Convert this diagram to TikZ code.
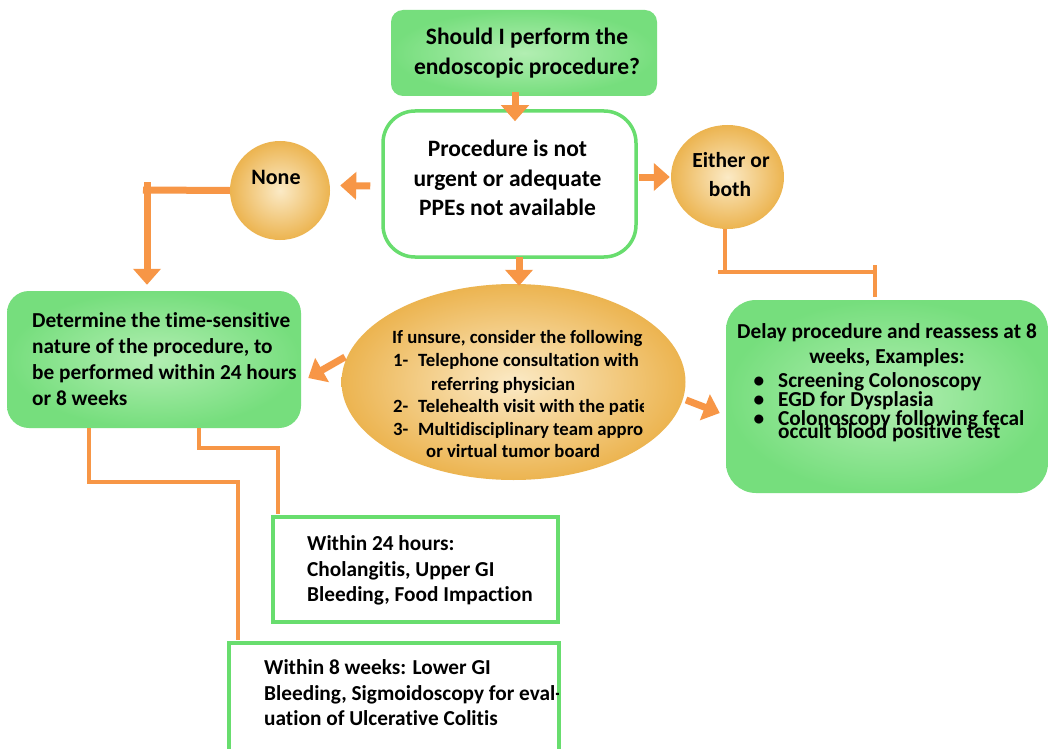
\documentclass[tikz,border=0pt]{standalone}
\usepackage{fontspec}
\setmainfont{Carlito}[Ligatures=NoCommon]
\usetikzlibrary{arrows.meta,shapes.geometric,calc}
\definecolor{gedge}{RGB}{118,222,125}
\definecolor{gin}{RGB}{178,238,178}
\definecolor{gborder}{RGB}{104,221,110}
\definecolor{oedge}{RGB}{236,180,80}
\definecolor{oin}{RGB}{251,234,198}
\definecolor{arr}{RGB}{247,150,70}
\begin{document}
\begin{tikzpicture}[x=1pt,y=-1pt,
  gbox/.style={rectangle, rounded corners=#1, inner color=gin, outer color=gedge, inner sep=0pt},
  gbox/.default=14pt,
  wbox/.style={rectangle, rounded corners=#1, fill=white, draw=gborder, line width=3.5pt, inner sep=0pt},
  wbox/.default=0pt,
  obub/.style={ellipse, inner color=oin, outer color=oedge, inner sep=0pt},
  bigarrow/.style={draw=arr, line width=7pt, -{Triangle[width=27pt,length=16pt]}},
  bigline/.style={draw=arr, line width=7pt},
  conn/.style={draw=arr, line width=4.5pt},
  tc/.style={anchor=base, inner sep=0pt, font=\bfseries\fontsize{#1}{#1}\selectfont},
  tl/.style={anchor=base west, inner sep=0pt, font=\bfseries\fontsize{#1}{#1}\selectfont},
]
\fill[white] (0,0) rectangle (1049,749);
\useasboundingbox (0,0) rectangle (1049,749);

% shapes
\node[gbox=12pt, minimum width=266pt, minimum height=86pt] (top) at (524,53) {};
\node[wbox=32pt, minimum width=253pt, minimum height=146pt] (box2) at (509.5,184) {};
\node[obub, minimum width=100pt, minimum height=99pt] (none) at (280,190.5) {};
\node[obub, minimum width=113pt, minimum height=104pt] (either) at (727.5,177) {};
\node[obub, minimum width=344pt, minimum height=196pt] (ell) at (513.5,382) {};
\node[gbox=22pt, minimum width=294pt, minimum height=137pt] (det) at (154,359.5) {};
\node[gbox=30pt, minimum width=322pt, minimum height=193pt] (dly) at (887,396.5) {};
\node[wbox, minimum width=285pt, minimum height=105pt] (w24) at (415.5,569.5) {};
\node[wbox, minimum width=330pt, minimum height=120pt] (w8) at (394,703) {};

% texts
\node[tc=23.5] (t1) at (527,45) {Should I perform the};
\node[tc=23.5] (t2) at (527,75) {endoscopic procedure?};
\node[tc=23.5] (b1) at (507.5,157) {Procedure is not};
\node[tc=23.5] (b2) at (507.5,186) {urgent or adequate};
\node[tc=23.5] (b3) at (507.5,215) {PPEs not available};
\node[tc=22] (n1) at (276,184) {None};
\node[tc=21.5] (e1) at (731,167) {Either or};
\node[tc=21.5] (e2) at (730,196) {both};

\begin{scope}
\clip (380,300) rectangle (643,470);
\node[tl=18.7] (l1) at (392,343) {If unsure, consider the following};
\node[tl=18.7] (l2) at (393,366) {\makebox[25pt][l]{1-}Telephone consultation with};
\node[tl=18.7] (l3) at (431,390) {referring physician};
\node[tl=18.7] (l4) at (393,412) {\makebox[25pt][l]{2-}Telehealth visit with the patient};
\node[tl=18.7] (l5) at (393,435) {\makebox[25pt][l]{3-}Multidisciplinary team approach};
\node[tl=18.7] (l6) at (426,457) {or virtual tumor board};
\end{scope}

\begin{scope}
\clip (0,290) rectangle (297,430);
\node[tl=21.3] (d1t) at (32,327) {Determine the time-sensitive};
\node[tl=21.3] (d2t) at (32,353) {nature of the procedure, to};
\node[tl=21.3] (d3t) at (32,379) {be performed within 24 hours};
\node[tl=21.3] (d4t) at (32,405) {or 8 weeks};
\end{scope}

\node[tc=21.3] (y1) at (887,338) {Delay procedure and reassess at 8};
\node[tc=21.3] (y2) at (887,363) {weeks, Examples:};
\node[tc=21.3] (yb1) at (759,387) {\textbullet};
\node[tc=21.3] (yb2) at (759,406) {\textbullet};
\node[tc=21.3] (yb3) at (759,425) {\textbullet};
\node[tl=21.3] (y3) at (778,387) {Screening Colonoscopy};
\node[tl=21.3] (y4) at (778,406) {EGD for Dysplasia};
\node[tl=21.3] (y5) at (778,425) {Colonoscopy following fecal};
\node[tl=21.3] (y6) at (778,438) {occult blood positive test};

\node[tl=21.3] (w1) at (307,550) {Within 24 hours:};
\node[tl=21.3] (w2) at (307,576) {Cholangitis, Upper GI};
\node[tl=21.3] (w3) at (307,601) {Bleeding, Food Impaction};

\begin{scope}
\clip (230,640) rectangle (558,749);
\node[tl=21.3] (v1) at (264,674) {Within 8 weeks: Lower GI};
\node[tl=21.3] (v2) at (264,700) {Bleeding, Sigmoidoscopy for eval-};
\node[tl=21.3] (v3) at (264,725) {uation of Ulcerative Colitis};
\end{scope}

% arrows
\draw[bigarrow] ($(top.south)+(-9,-4)$) -- ($(box2.north)+(5.5,12)$);
\draw[bigarrow] ($(box2.south)+(9.5,-2)$) -- ($(ell.north)+(5.5,2)$);
\draw[bigarrow] ($(box2.west)+(-11,2)$) -- ($(none.east)+(10,-5)$);
\draw[bigarrow] ($(box2.east)+(1,-7)$) -- ($(either.west)+(-1,0)$);
\coordinate (ea) at (345,357);
\coordinate (eb) at (686,400);
\draw[bigarrow] (ea) -- ($(det.east)+(7,18.5)$);
\draw[bigarrow] (eb) -- ($(dly.west)+(-6,16.5)$);

% None connector
\coordinate (nb) at (147,190);
\draw[bigline] (none.west) -- ($(nb)+(-4,0)$);
\draw[bigarrow] ($(nb)+(0,-8)$) -- ($(det.north -| nb)+(0,-6)$);

% Either connector
\coordinate (ec1) at (725,272);
\coordinate (ec2) at (875,272);
\draw[conn] (either.south -| ec1) -- (ec1);
\draw[conn] ($(ec1)+(-7,0)$) -- (ec2);
\draw[conn] ($(ec2)+(0,-7)$) -- ($(dly.north -| ec2)+(0,-3)$);

% det connectors
\coordinate (dc1) at (89,482);
\coordinate (dc2) at (238,482);
\coordinate (dc3) at (199,448);
\coordinate (dc4) at (278,448);
\draw[conn] (det.south -| dc1) -- (dc1) -- (dc2) -- ($(w8.north -| dc2)+(0,-1)$);
\draw[conn] (det.south -| dc3) -- (dc3) -- (dc4) -- ($(w24.north -| dc4)+(0,-1)$);
\end{tikzpicture}
\end{document}
